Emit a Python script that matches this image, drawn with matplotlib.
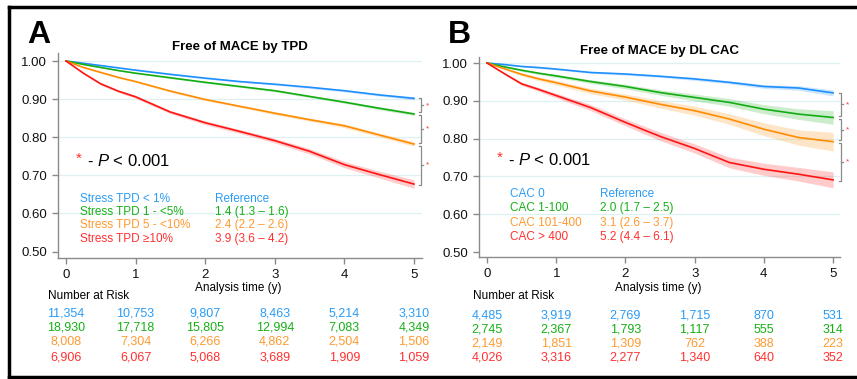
"""Kaplan-Meier style panels: freedom from MACE by stress TPD and by DL CAC."""

import matplotlib

matplotlib.use("Agg")

import matplotlib.pyplot as plt
from matplotlib.lines import Line2D
import matplotlib.transforms as mtransforms

plt.rcParams["font.family"] = ["Liberation Sans", "DejaVu Sans"]
plt.rcParams["mathtext.fontset"] = "custom"
plt.rcParams["mathtext.rm"] = "Liberation Sans"
plt.rcParams["mathtext.it"] = "Liberation Sans:italic"

# ---- data ---------------------------------------------------------------
TIME_Y = [0.0, 0.25, 0.5, 0.75, 1.0, 1.5, 2.0, 2.5, 3.0, 3.5, 4.0, 4.5, 5.0]

TPD_BLUE = [1.000, 0.994, 0.988, 0.982, 0.976, 0.965, 0.955, 0.946, 0.939, 0.931, 0.922, 0.911, 0.902]
TPD_GREEN = [1.000, 0.991, 0.983, 0.975, 0.968, 0.956, 0.944, 0.933, 0.922, 0.907, 0.892, 0.876, 0.861]
TPD_ORANGE = [1.000, 0.983, 0.970, 0.957, 0.946, 0.921, 0.899, 0.881, 0.863, 0.846, 0.830, 0.806, 0.782]
TPD_RED = [1.000, 0.968, 0.940, 0.921, 0.906, 0.866, 0.838, 0.815, 0.791, 0.763, 0.728, 0.702, 0.677]

TPD_BLUE_CI = [0, .001, .001, .001, .001, .002, .002, .002, .002, .003, .003, .003, .004]
TPD_GREEN_CI = [0, .001, .001, .001, .001, .002, .002, .002, .003, .003, .003, .004, .004]
TPD_ORANGE_CI = [0, .001, .002, .002, .002, .003, .003, .003, .004, .004, .005, .005, .006]
TPD_RED_CI = [0, .002, .003, .003, .004, .004, .005, .005, .006, .007, .008, .009, .011]

CAC_BLUE = [1.000, 0.996, 0.991, 0.988, 0.984, 0.975, 0.971, 0.965, 0.958, 0.949, 0.938, 0.934, 0.921]
CAC_GREEN = [1.000, 0.990, 0.981, 0.973, 0.966, 0.951, 0.938, 0.922, 0.909, 0.896, 0.878, 0.865, 0.856]
CAC_ORANGE = [1.000, 0.985, 0.970, 0.958, 0.948, 0.926, 0.910, 0.891, 0.874, 0.852, 0.825, 0.803, 0.792]
CAC_RED = [1.000, 0.972, 0.945, 0.930, 0.914, 0.882, 0.843, 0.806, 0.774, 0.737, 0.719, 0.706, 0.691]

CAC_BLUE_CI = [0, .001, .001, .002, .002, .002, .003, .003, .004, .004, .005, .006, .008]
CAC_GREEN_CI = [0, .002, .003, .003, .004, .005, .006, .007, .009, .010, .012, .014, .018]
CAC_ORANGE_CI = [0, .002, .004, .005, .006, .007, .008, .010, .012, .014, .017, .020, .025]
CAC_RED_CI = [0, .002, .004, .005, .006, .008, .009, .011, .012, .014, .016, .018, .021]

TPD_LABELS = ["Stress TPD < 1%", "Stress TPD 1 - <5%", "Stress TPD 5 - <10%", "Stress TPD \u226510%"]
TPD_HR = ["Reference", "1.4 (1.3 \u2013 1.6)", "2.4 (2.2 \u2013 2.6)", "3.9 (3.6 \u2013 4.2)"]
CAC_LABELS = ["CAC 0", "CAC 1-100", "CAC 101-400", "CAC > 400"]
CAC_HR = ["Reference", "2.0 (1.7 \u2013 2.5)", "3.1 (2.6 \u2013 3.7)", "5.2 (4.4 \u2013 6.1)"]

TPD_AT_RISK = [
    ["11,354", "10,753", "9,807", "8,463", "5,214", "3,310"],
    ["18,930", "17,718", "15,805", "12,994", "7,083", "4,349"],
    ["8,008", "7,304", "6,266", "4,862", "2,504", "1,506"],
    ["6,906", "6,067", "5,068", "3,689", "1,909", "1,059"],
]
CAC_AT_RISK = [
    ["4,485", "3,919", "2,769", "1,715", "870", "531"],
    ["2,745", "2,367", "1,793", "1,117", "555", "314"],
    ["2,149", "1,851", "1,309", "762", "388", "223"],
    ["4,026", "3,316", "2,277", "1,340", "640", "352"],
]

LINE_COLORS = ["#1e8fff", "#13ad13", "#ff8c00", "#ff1414"]
TEXT_COLORS = ["#2b9cf6", "#16b016", "#ff9a30", "#ff3030"]

W, H = 857, 379


def fy(px: float) -> float:
    return 1 - px / H


def draw_panel(fig, rect, letter, letter_x, title, curves, cis, labels, hrs,
               at_risk, xlim, ylim, bracket_x, star_x, legend_rows_y,
               hr_x, label_x, p_y, risk_title_x, row_y):
    ax = fig.add_axes(rect)
    for values, ci, color in zip(curves, cis, LINE_COLORS):
        lower = [v - c for v, c in zip(values, ci)]
        upper = [v + c for v, c in zip(values, ci)]
        ax.fill_between(TIME_Y, lower, upper, color=color, alpha=0.22,
                        linewidth=0, zorder=2)
        ax.plot(TIME_Y, values, color=color, linewidth=1.2, zorder=3)

    ax.set_xlim(*xlim)
    ax.set_ylim(*ylim)
    ax.set_xticks([0, 1, 2, 3, 4, 5])
    ax.set_yticks([0.5, 0.6, 0.7, 0.8, 0.9, 1.0])
    ax.set_yticklabels(["0.50", "0.60", "0.70", "0.80", "0.90", "1.00"])
    for y in [0.6, 0.7, 0.8, 0.9, 1.0]:
        ax.axhline(y, color="#dff0f0", linewidth=0.9, zorder=1)
    for side in ("top", "right"):
        ax.spines[side].set_visible(False)
    for side in ("left", "bottom"):
        ax.spines[side].set_color("#8a8a8a")
        ax.spines[side].set_linewidth(1.0)
    ax.tick_params(colors="#8a8a8a", labelcolor="#111111", length=4,
                   width=1.0, labelsize=9.5, pad=4)
    ax.set_title(title, fontsize=9.5, fontweight="bold", pad=0.5)

    # significance brackets between curve ends
    ends = [c[-1] for c in curves]
    for i in range(3):
        top = ends[i] + (0.0 if i == 0 else -0.004)
        bot = ends[i + 1] + (0.004 if i < 2 else -0.002)
        hook = 0.03
        kw = dict(color="#8a8a8a", linewidth=0.9, clip_on=False)
        ax.plot([bracket_x - hook, bracket_x, bracket_x, bracket_x - hook],
                [top, top, bot, bot], **kw)
        mid = (top + bot) / 2
        ax.plot([bracket_x, bracket_x + hook], [mid, mid], **kw)
        ax.text(star_x, mid, "*", color="#ff3030", fontsize=6,
                ha="center", va="center", clip_on=False)

    # p-value note
    ax.text(0.14, p_y + 0.006, "*", color="#ff3030", fontsize=11, ha="left",
            va="center")
    ax.text(0.3, p_y, "- $P$ < 0.001", fontsize=12, ha="left", va="center")

    for i in range(4):
        ax.text(label_x, legend_rows_y[i], labels[i], color=TEXT_COLORS[i],
                fontsize=8.5, ha="left", va="center")
        ax.text(hr_x, legend_rows_y[i], hrs[i], color=TEXT_COLORS[i],
                fontsize=8.5, ha="left", va="center")

    trans = mtransforms.blended_transform_factory(ax.transData, fig.transFigure)
    ax.text(2.48, fy(288), "Analysis time (y)", transform=trans, fontsize=8.5,
            ha="center", va="center")
    fig.text(risk_title_x / W, fy(296), "Number at Risk", fontsize=8.5,
             ha="left", va="center")
    for r, row in enumerate(at_risk):
        for k, value in enumerate(row):
            ax.text(k, fy(row_y[r]), value, transform=trans, fontsize=9,
                    color=TEXT_COLORS[r], ha="center", va="center")

    fig.text(letter_x / W, fy(43), letter, fontsize=23, fontweight="bold",
             ha="left", va="baseline")
    return ax


fig = plt.figure(figsize=(W / 100, H / 100), dpi=100)

draw_panel(
    fig, [58 / W, fy(258), 364 / W, 205 / H], "A", 27,
    "Free of MACE by TPD",
    [TPD_BLUE, TPD_GREEN, TPD_ORANGE, TPD_RED],
    [TPD_BLUE_CI, TPD_GREEN_CI, TPD_ORANGE_CI, TPD_RED_CI],
    TPD_LABELS, TPD_HR, TPD_AT_RISK,
    (-0.115, 5.115), (0.483, 1.021), 5.1, 5.2,
    [0.639, 0.605, 0.570, 0.533], 2.14, 0.2, 0.737, 48,
    [314, 328, 342, 357],
)

draw_panel(
    fig, [479 / W, fy(257), 361 / W, 200 / H], "B", 448,
    "Free of MACE by DL CAC",
    [CAC_BLUE, CAC_GREEN, CAC_ORANGE, CAC_RED],
    [CAC_BLUE_CI, CAC_GREEN_CI, CAC_ORANGE_CI, CAC_RED_CI],
    CAC_LABELS, CAC_HR, CAC_AT_RISK,
    (-0.116, 5.10), (0.487, 1.016), 5.12, 5.21,
    [0.653, 0.616, 0.577, 0.540], 1.63, 0.33, 0.743, 473,
    [316, 330, 344, 358],
)

# black frame around the figure
frame = dict(color="black", linewidth=2.5, transform=fig.transFigure)
fig.add_artist(Line2D([8.5 / W, 8.5 / W], [fy(6.5), fy(376.5)], **frame))
fig.add_artist(Line2D([8.5 / W, 1.0], [fy(6.5), fy(6.5)], **frame))
fig.add_artist(Line2D([8.5 / W, 1.0], [fy(376.5), fy(376.5)], **frame))

fig.savefig("out.png", dpi=100)
